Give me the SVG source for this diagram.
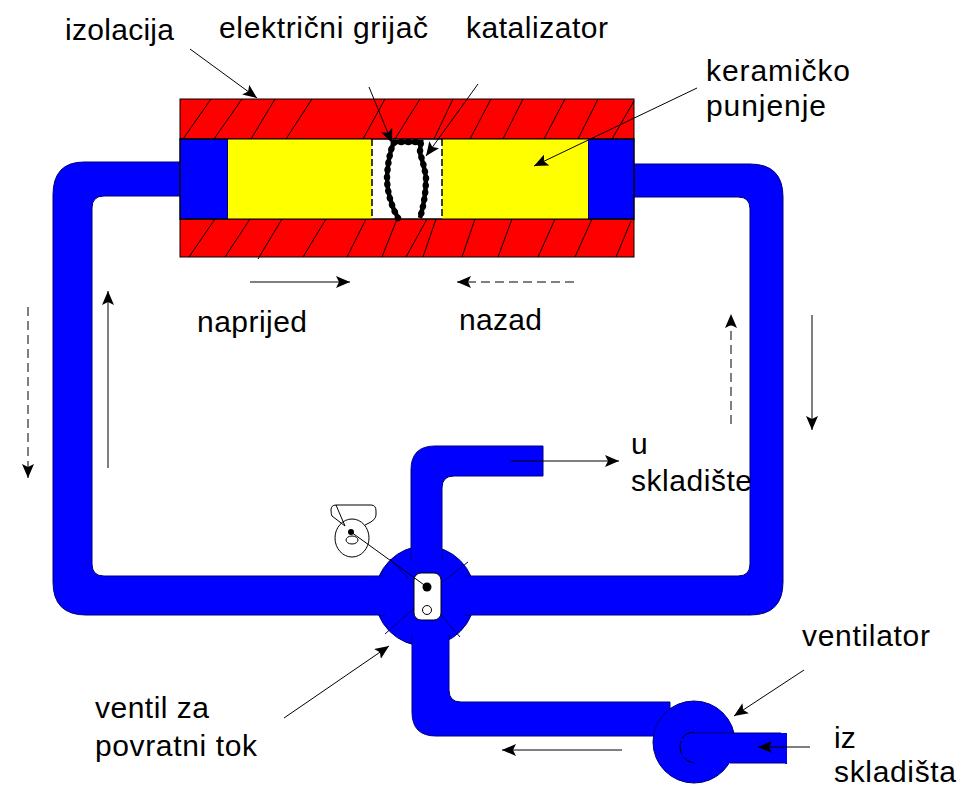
<svg xmlns="http://www.w3.org/2000/svg" width="965" height="792" viewBox="0 0 965 792">
<defs>
<marker id="a" markerUnits="userSpaceOnUse" viewBox="0 0 14 12" refX="14" refY="6" markerWidth="14" markerHeight="12" orient="auto"><path d="M0 0L14 6L0 12L3 6Z" fill="#000"/></marker>
</defs>
<style>
text{font-family:"Liberation Sans",Arial,sans-serif;font-size:30px;fill:#000}
.l{stroke:#000;stroke-width:1;fill:none}
.ar{stroke:#000;stroke-width:1;fill:none;marker-end:url(#a)}
.d{stroke-dasharray:9 5}
.p{fill:#0000ff;stroke:#00007a;stroke-width:1}
.b{fill:#0000ff}
.h{stroke:#000;stroke-width:1;fill:none}
</style>
<rect width="965" height="792" fill="#fff"/>
<g id="ventil">
<circle class="p" cx="425" cy="596" r="50"/>
</g>
<g id="pipes">
<path class="p" d="M181 162H84Q53 162 53 195V582Q53 615 86 615H385V576H104Q92 576 92 564V208Q92 196 104 196H181Z"/>
<path class="p" d="M633 164H750Q783 164 783 197V582Q783 615 750 615H465V576H738Q750 576 750 564V209Q750 197 738 197H633Z"/>
<path class="p" d="M411 560V470Q411 446 435 446H543V476H454Q442 476 442 488V560Z"/>
<path class="p" d="M412 635V712Q412 736 436 736H670V702H461Q449 702 449 690V635Z"/>
<rect class="b" x="372" y="576.5" width="20" height="38"/>
<rect class="b" x="458" y="576.5" width="20" height="38"/>
<rect class="b" x="411.5" y="535" width="30" height="30"/>
<rect class="b" x="412.5" y="630" width="36" height="25"/>
</g>
<g id="reaktor">
<rect x="180" y="99" width="454" height="40" fill="#f00" stroke="#000"/>
<rect x="180" y="219" width="454" height="38" fill="#f00" stroke="#000"/>
<path class="h" d="M183 139L211 99M214 139L242 99M251 139L275 99M286 139L312 99M363 139L385 99M395 139L420 99M434 139L453 99M470 139L491 99M503 139L523 99M544 139L565 99M578 139L598 99M612 139L634 101"/>
<path class="h" d="M189 257L215 219M225 257L250 219M258 259L282 219M303 257L326 219M347 257L366 219M382 257L397 219M406 257L427 219M423 257L436 219M462 257L475 219M498 257L512 219M538 257L555 219M575 257L592 219M616 257L631 221"/>
<rect x="180" y="139" width="48" height="80" fill="#00f" stroke="#000"/>
<rect x="588" y="139" width="46" height="80" fill="#00f" stroke="#000"/>
<rect x="228" y="139" width="144" height="80" fill="#ff0"/>
<rect x="442" y="139" width="146" height="80" fill="#ff0"/>
<path d="M372 139V219M442 139V219" stroke="#000" stroke-width="1.5" stroke-dasharray="7 3" fill="none"/>
<rect x="180" y="139" width="454" height="80" fill="none" stroke="#000"/>
</g>
<g id="grijac">
<path d="M398 218Q387 198 387 177Q388 158 393 144Q394 142 397 142H421Q420 148 420 153Q424 165 426 177Q426 198 420 218" fill="none" stroke="#000" stroke-width="4.5"/>
<path d="M398 218Q387 198 387 177Q388 158 393 144Q394 142 397 142H421Q420 148 420 153Q424 165 426 177Q426 198 420 218" fill="none" stroke="#000" stroke-width="6.5" stroke-linecap="round" stroke-dasharray="0.1 7"/>
</g>
<g id="ventil-sredina">
<path d="M414 584L390 559M414 608L385 634M441 583L468 562M441 615L460 637" stroke="#00007a" fill="none"/>
<rect x="414" y="573" width="27" height="47" rx="7" fill="#fff" stroke="#000"/>
<circle cx="427" cy="587" r="4.5" fill="#000"/>
<circle cx="427" cy="610" r="4.5" fill="none" stroke="#000"/>
</g>
<g id="ventil-pogon">
<path class="l" d="M336 505H371Q376 505 376 511V515Q376 520 367 524L365 525M345 526L332 516Q331 514 331 510Q331 505 336 505Z"/>
<ellipse class="l" cx="352" cy="538" rx="17" ry="19"/>
<ellipse class="l" cx="352" cy="540" rx="6" ry="4"/>
<circle cx="351" cy="532" r="3" fill="#000"/>
<path class="l" d="M351 532L427 587"/>
</g>
<g id="ventilator">
<circle class="p" cx="694" cy="742" r="41"/>
<path d="M692 733H786V763H692Z" fill="#00f"/>
<path d="M692 733H781M787 763H730" stroke="#00007a" fill="none"/>
<path d="M786 733V764" stroke="#00f" stroke-width="2"/>
<path class="l" d="M694 732Q681 733 680 746Q680 760 694 763" stroke="#00007a" stroke-dasharray="14 3"/>
</g>
<g id="connectors">
<path class="ar" d="M190 49L257 98"/>
<path class="ar" d="M369 87L392 143"/>
<path class="ar" d="M478 84L426 156"/>
<path class="ar" d="M697 88L534 166"/>
<path class="ar" d="M250 282H350"/>
<path class="ar d" d="M574 282H457"/>
<path class="ar" d="M108 468V291"/>
<path class="ar d" d="M28 307V478"/>
<path class="ar d" d="M731 424V314"/>
<path class="ar" d="M812 315V430"/>
<path class="ar" d="M510 461H619"/>
<path class="ar" d="M284 718L389 646"/>
<path class="ar" d="M804 670L734 716"/>
<path class="ar" d="M810 747H758"/>
<path class="ar" d="M622 750H502"/>
</g>
<g id="labels">
<text x="65" y="40" textLength="109">izolacija</text>
<text x="219" y="38" textLength="209">električni grijač</text>
<text x="466" y="38" textLength="142">katalizator</text>
<text x="706" y="81" textLength="144">keramičko</text>
<text x="706" y="116" textLength="120">punjenje</text>
<text x="197" y="332" textLength="110">naprijed</text>
<text x="459" y="330" textLength="83">nazad</text>
<text x="631" y="454">u</text>
<text x="631" y="491" textLength="121">skladište</text>
<text x="802" y="646" textLength="128">ventilator</text>
<text x="95" y="718" textLength="114">ventil za</text>
<text x="95" y="756" textLength="162">povratni tok</text>
<text x="834" y="748">iz</text>
<text x="834" y="782" textLength="122">skladišta</text>
</g>
</svg>
